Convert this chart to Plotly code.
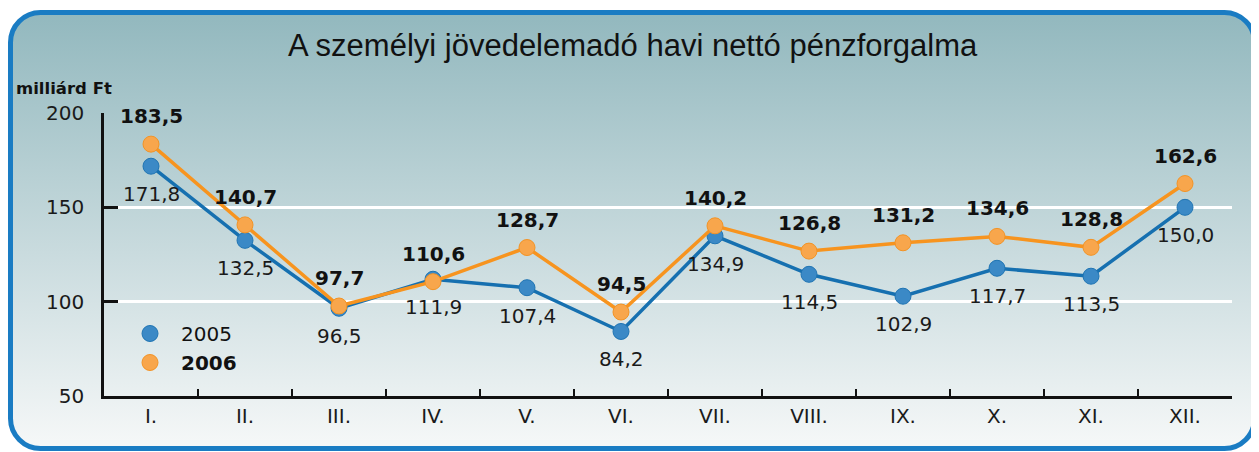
import base64
import plotly.graph_objects as go

months = ["I.", "II.", "III.", "IV.", "V.", "VI.", "VII.", "VIII.", "IX.", "X.", "XI.", "XII."]
v2005 = [171.8, 132.5, 96.5, 111.9, 107.4, 84.2, 134.9, 114.5, 102.9, 117.7, 113.5, 150.0]
v2006 = [183.5, 140.7, 97.7, 110.6, 128.7, 94.5, 140.2, 126.8, 131.2, 134.6, 128.8, 162.6]
y_ticks = [50, 100, 150, 200]

OFF = 8  # default page body margin
W, H = 1259 - OFF, 452 - OFF
# plot area in page coordinates
PX0, PX1, PY0, PY1 = 104, 1232, 113, 396
ML, MR, MT, MB = PX0 - OFF, W - (PX1 - OFF), PY0 - OFF, H - (PY1 - OFF)
PW, PH = PX1 - PX0, PY1 - PY0
FONT = "DejaVu Sans"
TFONT = "Liberation Sans"

def fmt(v):
    return f"{v:.1f}".replace(".", ",")

def px_x(p):  # page x -> paper
    return (p - PX0) / PW

def px_y(p):  # page y -> paper
    return (PY1 - p) / PH

# background: rounded panel with vertical gradient (page coords)
bx0, by0, bx1, by1 = 8, 10, 1257, 451
bw, bh = bx1 - bx0, by1 - by0
svg = f'''<svg xmlns="http://www.w3.org/2000/svg" width="{bw}" height="{bh}" viewBox="0 0 {bw} {bh}">
<defs><linearGradient id="g" x1="0" y1="0" x2="0" y2="1">
<stop offset="0" stop-color="#92b8be"/>
<stop offset="0.55" stop-color="#c9dbde"/>
<stop offset="1" stop-color="#f6f8f8"/>
</linearGradient></defs>
<rect x="2.5" y="2.5" width="{bw-5}" height="{bh-5}" rx="30" ry="30" fill="url(#g)" stroke="#1a7cc3" stroke-width="5"/>
</svg>'''
src = "data:image/svg+xml;base64," + base64.b64encode(svg.encode()).decode()

fig = go.Figure()

fig.add_trace(go.Scatter(
    x=months, y=v2005, mode="lines+markers", showlegend=False,
    line=dict(color="#1670b0", width=3.5),
    marker=dict(size=16, color="#3b89c6", line=dict(color="#1f74b3", width=1)),
))
fig.add_trace(go.Scatter(
    x=months, y=v2006, mode="lines+markers", showlegend=False,
    line=dict(color="#f7941f", width=3.5),
    marker=dict(size=16, color="#f8a64c", line=dict(color="#f39325", width=1)),
))
# legend-only marker entries
fig.add_trace(go.Scatter(
    x=[None], y=[None], mode="markers", name="2005",
    marker=dict(size=17, color="#3b89c6", line=dict(color="#1f74b3", width=1)),
))
fig.add_trace(go.Scatter(
    x=[None], y=[None], mode="markers", name="<b>2006</b>",
    marker=dict(size=17, color="#f8a64c", line=dict(color="#f39325", width=1)),
))

annotations = []
for m, v in zip(months, v2005):
    annotations.append(dict(x=m, y=v, xref="x", yref="y", text=fmt(v), showarrow=False,
                            yshift=-28, font=dict(family=FONT, size=20, color="#1a1a1a")))
for m, v in zip(months, v2006):
    annotations.append(dict(x=m, y=v, xref="x", yref="y", text="<b>" + fmt(v) + "</b>", showarrow=False,
                            yshift=28, font=dict(family=FONT, size=20, color="#111111")))

annotations.append(dict(x=px_x(633), y=px_y(45), xref="paper", yref="paper",
                        text="A személyi jövedelemadó havi nettó pénzforgalma", showarrow=False,
                        xanchor="center", yanchor="middle",
                        font=dict(family=TFONT, size=31, color="#111111")))
annotations.append(dict(x=px_x(14), y=px_y(88), xref="paper", yref="paper",
                        text="<b>milliárd Ft</b>", showarrow=False,
                        xanchor="left", yanchor="middle",
                        font=dict(family=FONT, size=16.5, color="#111111")))

fig.update_layout(
    width=W, height=H,
    margin=dict(l=ML, r=MR, t=MT, b=MB, pad=0),
    paper_bgcolor="white", plot_bgcolor="rgba(0,0,0,0)",
    images=[dict(source=src, xref="paper", yref="paper",
                 x=px_x(bx0), y=px_y(by0), sizex=bw / PW, sizey=bh / PH,
                 xanchor="left", yanchor="top", sizing="stretch", layer="below")],
    annotations=annotations,
    legend=dict(x=px_x(119), y=px_y(314), xanchor="left", yanchor="top",
                bgcolor="rgba(0,0,0,0)", font=dict(family=FONT, size=20, color="#111111"),
                itemwidth=52, tracegroupgap=0),
    font=dict(family=FONT),
)

fig.update_xaxes(
    type="category", range=[-0.5, 11.5],
    showline=True, linecolor="#111111", linewidth=2.5,
    ticks="inside", tickson="boundaries", ticklen=7, tickwidth=2, tickcolor="#111111",
    showgrid=False, tickfont=dict(family=FONT, size=20, color="#1a1a1a"),
)
fig.update_yaxes(
    range=[50, 200], tickvals=y_ticks,
    showline=True, linecolor="#111111", linewidth=2.5,
    ticks="inside", ticklen=14, tickwidth=2.5, tickcolor="#111111",
    showgrid=True, gridcolor="white", gridwidth=2.5, zeroline=False,
    tickfont=dict(family=FONT, size=20, color="#1a1a1a"), ticklabelstandoff=13,
)

fig.write_html("out.html")
